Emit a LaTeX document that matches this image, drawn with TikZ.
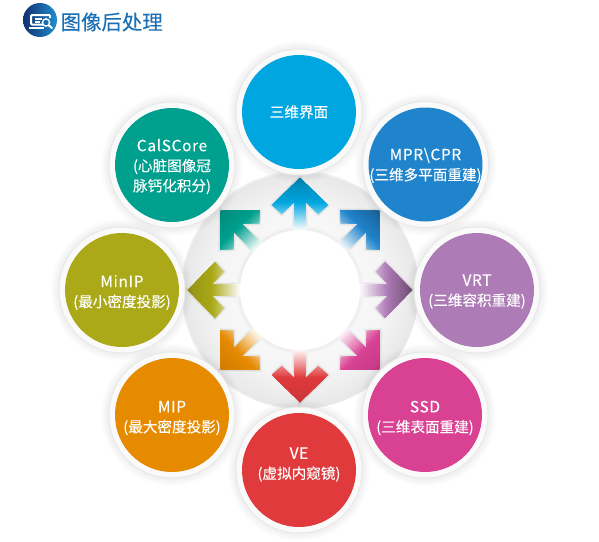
\documentclass[tikz,border=0pt]{standalone}
\usepackage{fontspec}
\newfontfamily\cjk[FakeBold=0.15]{Noto Sans CJK SC}
\newfontfamily\cjkl[LetterSpace=4,FakeBold=0.15]{Noto Sans CJK SC}
\definecolor{ctop}{HTML}{00A6E0}\definecolor{cmpr}{HTML}{2084CC}\definecolor{cvrt}{HTML}{AD7BB5}
\definecolor{cssd}{HTML}{D94193}\definecolor{cve}{HTML}{E03A3C}\definecolor{cmip}{HTML}{E68A00}
\definecolor{cmin}{HTML}{ABA917}\definecolor{ccal}{HTML}{00A08E}
\definecolor{titleblue}{HTML}{1B70B5}
\definecolor{navy}{HTML}{12306F}\definecolor{skyb}{HTML}{1E8FD0}
\pgfdeclareradialshading{ringshade}{\pgfpoint{0bp}{0bp}}{color(0bp)=(white);color(12bp)=(white);color(13bp)=(white!97!black);color(18bp)=(white!96!black);color(24.6bp)=(white!91!black);color(25bp)=(white!95!black);color(50bp)=(white!95!black)}
\newcommand{\softhalo}[3]{\foreach \k in {0,...,9}{\fill[black,opacity=#3] (#1) circle ({#2+\k});}}
\newcommand{\bubble}[5]{%
  \softhalo{#1}{62}{0.008}
  \fill[white!91!black] (#1) circle (63.5);
  \fill[white!98!black] (#1) circle (62.5);
  \node[bubblefill,fill=#2] (#3) at (#1) {};
  \node[bubbletext,align=center] (#3t) at (#4) {#5};
}
\newcommand{\arrowpath}{(0,112)--(28,85)--(18.3,76)--(5.7,88)--(5.7,58)--(-5.7,58)--(-5.7,88)--(-18.3,76)--(-28,85)--cycle}
\newcommand{\ringarrow}[3]{%
  \begin{scope}[shift={(300,290)},rotate=#1,x=1pt,y=1pt]
    \foreach \w in {1.5,3,4.5}{\draw[black,opacity=0.03,line width=\w pt,line join=miter]
      (28,85)--(18.3,76)--(5.7,88)--(5.7,64) (-5.7,64)--(-5.7,88)--(-18.3,76)--(-28,85)--(0,112)--cycle;}
    \begin{scope}
      \clip \arrowpath;
      \fill[white] (-30,57) rectangle (30,113);
      \foreach \t in {0,...,27}{
        \pgfmathsetmacro{\p}{min(100,\t*7)}
        \pgfmathsetmacro{\q}{max(0,(\t-14)*7.1)}
        \fill[#3!\q!#2!\p!white] (-30,{58+2*\t}) rectangle (30,113);
      }
    \end{scope}
  \end{scope}
}
\tikzset{
  bubblefill/.style={circle,inner sep=0pt,minimum size=114pt,draw=none},
  bubbletext/.style={text=white,font=\cjkl\fontsize{15.5}{20}\selectfont},
}
\newcommand{\zh}[1]{{\cjk\fontsize{14.6}{20}\selectfont #1}}
\begin{document}
\begin{tikzpicture}[x=1pt,y=-1pt]
\useasboundingbox (0,0) rectangle (599,541);
% ring
\shade[shading=ringshade] (300,290) circle (119);
\foreach \k in {0,...,4}{\fill[black,opacity=0.012] (300,290) circle ({64-\k});}
\fill[white] (300,290) circle (60);
% arrows
\ringarrow{0}{ctop}{ctop!75!black}
\ringarrow{-45}{cmpr}{cmpr!70!black}
\ringarrow{-90}{cvrt}{cvrt!60!black}
\ringarrow{-135}{cssd}{cssd!90!black}
\ringarrow{180}{cve}{cve!90!black}
\ringarrow{135}{cmip}{cmip!90!black}
\ringarrow{90}{cmin}{cmin!85!black}
\ringarrow{45}{ccal}{ccal!85!black}
% bubbles
\bubble{299,112}{ctop}{top}{299,112}{\zh{三维界面}}
\bubble{425.5,164.5}{cmpr}{mpr}{425.5,165.5}{MPR\textbackslash CPR\\\zh{(三维多平面重建)}}
\bubble{477,290}{cvrt}{vrt}{477,291.5}{VRT\\\zh{(三维容积重建)}}
\bubble{425,415}{cssd}{ssd}{425,418}{SSD\\\zh{(三维表面重建)}}
\bubble{172,415}{cmip}{mip}{172,418}{MIP\\\zh{(最大密度投影)}}
\bubble{122,290}{cmin}{min}{122,292.5}{MinIP\\\zh{(最小密度投影)}}
\bubble{172,165}{ccal}{cal}{172,166.5}{CalSCore\\\zh{(心脏图像冠}\\\zh{脉钙化积分)}}
\bubble{299,470}{cve}{ve}{299,464.5}{VE\\\zh{(虚拟内窥镜)}}
% title
\shade[left color=navy,right color=skyb] (40,20) circle (17);
\node[inner sep=0pt,anchor=west,text=titleblue,font=\cjk\fontsize{20.4}{24}\selectfont] (title) at (60.5,22) {图像后处理};
% logo icon
\draw[white,line width=2pt,rounded corners=1pt] (43,24.5)--(31,24.5)--(31,15)--(50,15)--(50,18);
\draw[white,line width=1.5pt] (29,28)--(44,28) (35,19)--(42,19) (35,22)--(40,22);
\draw[white,line width=1.4pt] (46,22.5) circle (3.6);
\draw[white,line width=2pt,line cap=round] (48.8,25.3)--(52,28);
\end{tikzpicture}
\end{document}
